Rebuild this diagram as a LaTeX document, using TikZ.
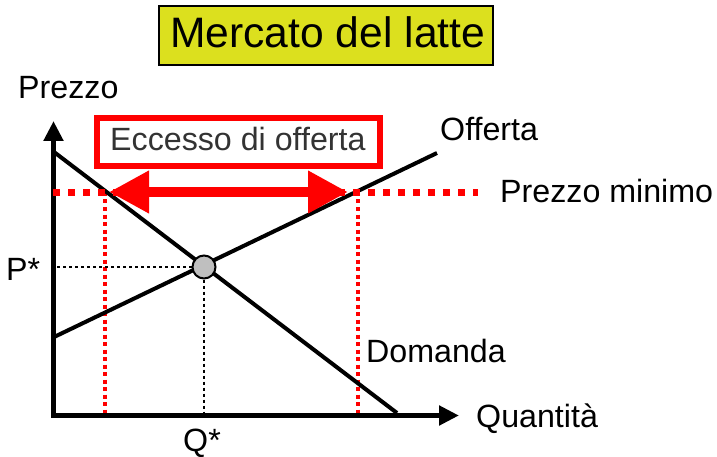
\documentclass[tikz,border=0pt]{standalone}
\usepackage{fontspec}
\setmainfont{Liberation Sans}
\usetikzlibrary{arrows.meta}
\definecolor{titlefill}{RGB}{220,224,30}
\definecolor{boxtext}{RGB}{51,51,51}
\tikzset{
  lbl/.style={anchor=base west, inner sep=0pt, font=\fontsize{32.2}{36}\selectfont},
  axisline/.style={line width=5pt, -{Triangle[length=20pt,width=19pt]}},
  curve/.style={line width=4pt},
  guide/.style={line width=2.5pt, dash pattern=on 3pt off 3pt},
  floorline/.style={red, line width=7pt, dash pattern=on 7pt off 8pt},
  redguide/.style={red, line width=3.5pt, dash pattern=on 4pt off 3.5pt},
}
\begin{document}
\begin{tikzpicture}[x=1pt,y=-1pt]
\useasboundingbox (0,0) rectangle (717,457);
% title
\draw[line width=2pt, fill=titlefill] (159,6) rectangle (493,65);
\node[anchor=base west, inner sep=0pt, font=\fontsize{42.6}{48}\selectfont] (title) at (170,48) {Mercato del latte};
% coordinates
\coordinate (O) at (53.5,415.5);
\coordinate (Ytop) at (53.5,121);
\coordinate (Xend) at (459,415.5);
\coordinate (D1) at (54,152);
\coordinate (D2) at (397,413);
\coordinate (S1) at (52,338);
\coordinate (S2) at (437,153);
\coordinate (F1) at (53,192.5);
\coordinate (F2) at (478,192.5);
\coordinate (L1) at (105,192);
\coordinate (L2) at (105,413);
\coordinate (R1) at (358,192);
\coordinate (R2) at (358,413);
\coordinate (A1) at (109,192);
\coordinate (A2) at (348,192);
\coordinate (Pax) at (57,267);
\coordinate (Qax) at (204,413);
% red dotted guides
\draw[redguide] (L1) -- (L2);
\draw[redguide] (R1) -- (R2);
% curves
\draw[curve] (D1) -- (D2);
\draw[curve] (S1) -- (S2);
% axes
\draw[axisline] (O) -- (Ytop);
\draw[axisline] ([xshift=-2.5pt]O) -- (Xend);
% price floor
\draw[floorline] (F1) -- (F2);
% double arrow
\draw[red, line width=10pt, {Triangle[length=40pt,width=40pt]}-{Triangle[length=40pt,width=40pt]}] (A1) -- (A2);
% equilibrium
\node[circle, draw, line width=2pt, fill=black!25, minimum size=23pt, inner sep=0pt] (E) at (204,267) {};
\draw[guide] (E.west) -- (Pax);
\draw[guide] (E.south) -- (Qax);
% excess box
\draw[red, line width=6pt] (97,118) rectangle (380,166);
% labels
\node[lbl] (prezzo) at (18,99) {Prezzo};
\node[lbl, text=boxtext] (eccesso) at (110,151) {Eccesso di offerta};
\node[lbl] (offerta) at (440,141) {Offerta};
\node[lbl] (pmin) at (500,202) {Prezzo minimo};
\node[lbl] (domanda) at (366,362) {Domanda};
\node[lbl] (quant) at (476,427) {Quantità};
\node[lbl] (pstar) at (6,280) {P*};
\node[lbl] (qstar) at (183,451) {Q*};
\end{tikzpicture}
\end{document}
